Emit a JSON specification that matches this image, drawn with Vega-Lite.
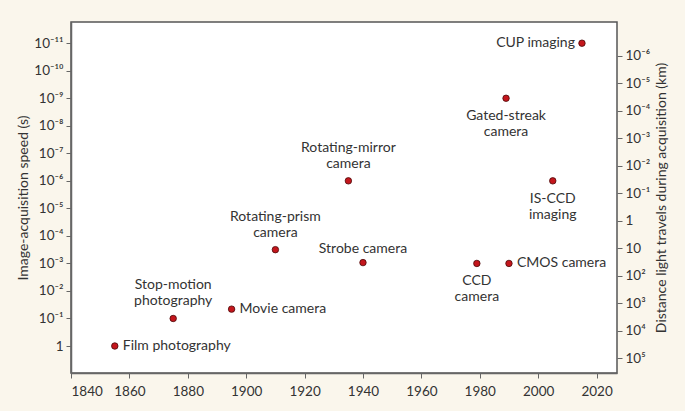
{
  "$schema": "https://vega.github.io/schema/vega-lite/v6.json",
  "width": 546,
  "height": 351,
  "autosize": {"type": "none"},
  "padding": {"left": 71, "top": 22, "right": 68, "bottom": 38},
  "background": "#faf6ec",
  "config": {
    "view": {"stroke": "#555555", "strokeWidth": 1.5, "fill": "#ffffff"},
    "font": "Lato",
    "axis": {
      "grid": false,
      "domainColor": "#666666",
      "domainWidth": 1.5,
      "tickColor": "#666666",
      "tickSize": 5,
      "labelColor": "#333333",
      "labelFont": "Lato",
      "labelFontSize": 13.5,
      "titleFont": "Lato",
      "titleFontSize": 14,
      "titleFontWeight": "normal",
      "titleColor": "#333333"
    }
  },
  "data": {
    "values": [
      {"name": "Film photography", "year": 1855, "n": 0},
      {"name": "Stop-motion\nphotography", "year": 1875, "n": 1},
      {"name": "Movie camera", "year": 1895, "n": 1.34},
      {"name": "Rotating-prism\ncamera", "year": 1910, "n": 3.5},
      {"name": "Rotating-mirror\ncamera", "year": 1935, "n": 6},
      {"name": "Strobe camera", "year": 1940, "n": 3.03},
      {"name": "CCD\ncamera", "year": 1979, "n": 3},
      {"name": "CMOS camera", "year": 1990, "n": 3},
      {"name": "Gated-streak\ncamera", "year": 1989, "n": 9},
      {"name": "IS-CCD\nimaging", "year": 2005, "n": 6},
      {"name": "CUP imaging", "year": 2015, "n": 11}
    ]
  },
  "encoding": {
    "x": {
      "field": "year",
      "type": "quantitative",
      "scale": {"domain": [1840, 2027], "nice": false, "zero": false},
      "axis": {"values": [1840, 1860, 1880, 1900, 1920, 1940, 1960, 1980, 2000, 2020], "format": "d", "title": null, "labelPadding": 6}
    },
    "y": {
      "field": "n",
      "type": "quantitative",
      "scale": {"domain": [-0.98, 11.77], "nice": false, "zero": false}
    }
  },
  "layer": [
    {
      "mark": {"type": "point", "shape": "circle", "filled": true, "size": 42, "fill": "#c4161c", "stroke": "#4a0a0a", "strokeWidth": 0.8, "opacity": 1},
      "encoding": {
        "y": {
          "field": "n",
          "type": "quantitative",
          "axis": {
            "orient": "left",
            "values": [0, 1, 2, 3, 4, 5, 6, 7, 8, 9, 10, 11],
            "labelExpr": "['1','10⁻¹','10⁻²','10⁻³','10⁻⁴','10⁻⁵','10⁻⁶','10⁻⁷','10⁻⁸','10⁻⁹','10⁻¹⁰','10⁻¹¹'][round(datum.value)]",
            "title": "Image-acquisition speed (s)",
            "labelPadding": 3,
            "titlePadding": 3
          }
        }
      }
    },
    {
      "transform": [{"filter": {"field": "name", "oneOf": ["Film photography", "Movie camera", "CMOS camera"]}}],
      "mark": {"type": "text", "align": "left", "baseline": "middle", "dx": 8, "fontSize": 14, "color": "#333333"},
      "encoding": {
        "text": {"field": "name"},
        "y": {
          "field": "n",
          "type": "quantitative",
          "axis": {
            "orient": "right",
            "values": [10.55, 9.55, 8.55, 7.55, 6.55, 5.55, 4.55, 3.55, 2.55, 1.55, 0.55, -0.45],
            "labelExpr": "['10⁻⁶','10⁻⁵','10⁻⁴','10⁻³','10⁻²','10⁻¹','1','10','10²','10³','10⁴','10⁵'][round(4.55 - datum.value) + 6]",
            "title": "Distance light travels during acquisition (km)",
            "titleAngle": 270,
            "titleX": 44,
            "titleY": 175.5,
            "titleAlign": "center",
            "titleBaseline": "middle",
            "labelPadding": 3,
            "domain": false
          }
        }
      }
    },
    {
      "transform": [{"filter": {"field": "name", "oneOf": ["CUP imaging"]}}],
      "mark": {"type": "text", "align": "right", "baseline": "middle", "dx": -7, "fontSize": 14, "color": "#333333"},
      "encoding": {"text": {"field": "name"}, "y": {"field": "n", "type": "quantitative", "axis": null}}
    },
    {
      "transform": [{"filter": {"field": "name", "oneOf": ["Strobe camera"]}}],
      "mark": {"type": "text", "align": "center", "baseline": "bottom", "dy": -7, "fontSize": 14, "color": "#333333"},
      "encoding": {"text": {"field": "name"}, "y": {"field": "n", "type": "quantitative", "axis": null}}
    },
    {
      "transform": [{"filter": {"field": "name", "oneOf": ["Stop-motion\nphotography", "Rotating-prism\ncamera", "Rotating-mirror\ncamera"]}}],
      "mark": {"type": "text", "align": "center", "baseline": "bottom", "dy": -26, "lineBreak": "\n", "lineHeight": 16, "fontSize": 14, "color": "#333333"},
      "encoding": {"text": {"field": "name"}, "y": {"field": "n", "type": "quantitative", "axis": null}}
    },
    {
      "transform": [{"filter": {"field": "name", "oneOf": ["Gated-streak\ncamera", "IS-CCD\nimaging", "CCD\ncamera"]}}],
      "mark": {"type": "text", "align": "center", "baseline": "top", "dy": 11, "lineBreak": "\n", "lineHeight": 16, "fontSize": 14, "color": "#333333"},
      "encoding": {"text": {"field": "name"}, "y": {"field": "n", "type": "quantitative", "axis": null}}
    }
  ],
  "resolve": {"scale": {"y": "shared"}, "axis": {"y": "independent"}}
}
